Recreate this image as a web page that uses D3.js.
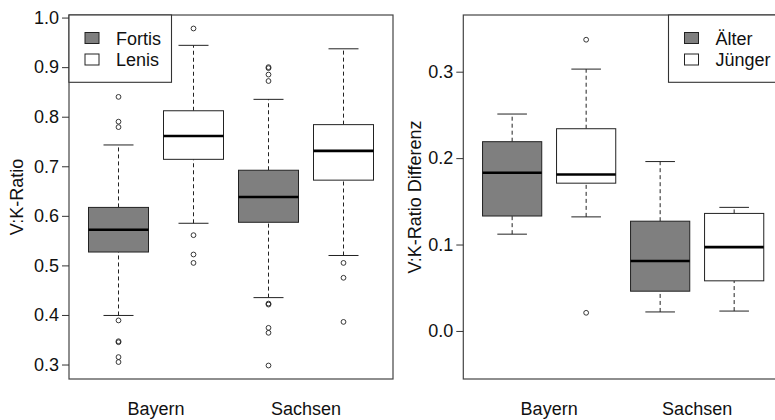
<!DOCTYPE html>
<html>
<head>
<meta charset="utf-8">
<script src="https://cdn.jsdelivr.net/npm/d3@7"></script>
<style>
  body { margin: 0; background: #fff; }
  svg { display: block; font-family: "Liberation Sans", Arial, Helvetica, sans-serif; }
</style>
</head>
<body>
<div id="chart"></div>
<script>
// regions on the x axis
var regions = ["Bayern", "Sachsen"];

// left panel: V:K ratio, [lower whisker, q1, median, q3, upper whisker] per region
var ratioSeries = ["Fortis", "Lenis"];
var ratioFortis = [[0.399, 0.527, 0.572, 0.617, 0.743], [0.435, 0.587, 0.638, 0.692, 0.835]];
var ratioLenis = [[0.585, 0.714, 0.761, 0.812, 0.944], [0.520, 0.672, 0.731, 0.784, 0.937]];
var ratioFortisOut = [[0.840, 0.790, 0.779, 0.389, 0.347, 0.345, 0.315, 0.305],
                      [0.900, 0.898, 0.885, 0.872, 0.423, 0.421, 0.374, 0.364, 0.298]];
var ratioLenisOut = [[0.978, 0.561, 0.522, 0.505], [0.505, 0.475, 0.386]];
var ratioTicks = [0.3, 0.4, 0.5, 0.6, 0.7, 0.8, 0.9, 1.0];

// right panel: V:K ratio difference
var diffSeries = ["Älter", "Jünger"];
var diffAelter = [[0.112, 0.133, 0.183, 0.219, 0.251], [0.022, 0.046, 0.081, 0.127, 0.196]];
var diffJuenger = [[0.132, 0.171, 0.181, 0.234, 0.303], [0.023, 0.058, 0.097, 0.136, 0.143]];
var diffAelterOut = [[], []];
var diffJuengerOut = [[0.337, 0.021], []];
var diffTicks = [0.0, 0.1, 0.2, 0.3];

var W = 775, H = 420;
var FS = 18;
var svg = d3.select("#chart").append("svg").attr("width", W).attr("height", H);

function boxPanel(opt) {
    var g = svg.append("g");
    var x = d3.scaleLinear().domain([0.34, 4.66]).range([opt.left, opt.right]);
    var y = d3.scaleLinear().domain(opt.ylim).range([379, 15]);

    // build the box list: region r, series s -> position
    var boxes = [];
    regions.forEach(function(r, i) {
        opt.stats.forEach(function(st, s) {
            boxes.push({pos: i * 2 + s + 1, st: st[i], out: opt.outs[s][i], fill: s == 0 ? "#7f7f7f" : "#fff"});
        });
    });

    var bw = x(0.4) - x(0), cw = x(0.2) - x(0);
    var b = g.selectAll(".box").data(boxes).enter().append("g").attr("class", "box");

    b.append("line")
        .attr("x1", function(d){ return x(d.pos); }).attr("x2", function(d){ return x(d.pos); })
        .attr("y1", function(d){ return y(d.st[0]); }).attr("y2", function(d){ return y(d.st[1]); })
        .attr("stroke", "#222").attr("stroke-dasharray", "4,3");
    b.append("line")
        .attr("x1", function(d){ return x(d.pos); }).attr("x2", function(d){ return x(d.pos); })
        .attr("y1", function(d){ return y(d.st[3]); }).attr("y2", function(d){ return y(d.st[4]); })
        .attr("stroke", "#222").attr("stroke-dasharray", "4,3");
    [0, 4].forEach(function(k) {
        b.append("line")
            .attr("x1", function(d){ return x(d.pos) - cw; }).attr("x2", function(d){ return x(d.pos) + cw; })
            .attr("y1", function(d){ return y(d.st[k]); }).attr("y2", function(d){ return y(d.st[k]); })
            .attr("stroke", "#222");
    });
    b.append("rect")
        .attr("x", function(d){ return x(d.pos) - bw; })
        .attr("width", bw * 2)
        .attr("y", function(d){ return y(d.st[3]); })
        .attr("height", function(d){ return y(d.st[1]) - y(d.st[3]); })
        .attr("fill", function(d){ return d.fill; })
        .attr("stroke", "#222");
    b.append("line")
        .attr("x1", function(d){ return x(d.pos) - bw; }).attr("x2", function(d){ return x(d.pos) + bw; })
        .attr("y1", function(d){ return y(d.st[2]); }).attr("y2", function(d){ return y(d.st[2]); })
        .attr("stroke", "#000").attr("stroke-width", 2.6);
    b.selectAll("circle").data(function(d){ return d.out.map(function(v){ return {pos: d.pos, v: v}; }); })
        .enter().append("circle")
        .attr("cx", function(d){ return x(d.pos); })
        .attr("cy", function(d){ return y(d.v); })
        .attr("r", 2.4)
        .attr("fill", "none").attr("stroke", "#222").attr("stroke-width", 0.9);

    // frame
    g.append("rect").attr("x", opt.left).attr("y", 15)
        .attr("width", opt.right - opt.left).attr("height", 364)
        .attr("fill", "none").attr("stroke", "#444").attr("stroke-width", 1.2);

    // y axis
    var ax = g.append("g").attr("transform", "translate(" + opt.left + ",0)")
        .call(d3.axisLeft(y).tickValues(opt.ticks).tickFormat(d3.format(".1f")).tickSize(7).tickPadding(3));
    ax.select(".domain").remove();
    ax.selectAll("line").attr("stroke", "#333");
    ax.selectAll("text").attr("font-size", FS).attr("fill", "#111").attr("font-family", null);

    g.append("text")
        .attr("transform", "translate(" + opt.labelX + ",197) rotate(-90)")
        .attr("text-anchor", "middle").attr("font-size", FS).attr("fill", "#111")
        .text(opt.ylabel);

    // region labels
    g.selectAll(".reg").data(regions).enter().append("text")
        .attr("x", function(d, i){ return x(i * 2 + 1.5); })
        .attr("y", 415)
        .attr("text-anchor", "middle").attr("font-size", FS).attr("fill", "#111")
        .text(function(d){ return d; });

    // legend
    var lg = g.append("g");
    lg.append("rect").attr("x", opt.legX).attr("y", 15)
        .attr("width", opt.legW).attr("height", 67.3)
        .attr("fill", "#fff").attr("stroke", "#333").attr("stroke-width", 1.1);
    opt.series.forEach(function(s, i) {
        lg.append("rect").attr("x", opt.legX + 16).attr("y", 32.5 + i * 21.5)
            .attr("width", 14).attr("height", 11)
            .attr("fill", i == 0 ? "#7f7f7f" : "#fff").attr("stroke", "#222");
        lg.append("text").attr("x", opt.legX + 47).attr("y", 44.5 + i * 21.5)
            .attr("font-size", FS).attr("fill", "#111").text(s);
    });
}

boxPanel({left: 69, right: 393, ylim: [0.2708, 1.0052], ticks: ratioTicks,
    stats: [ratioFortis, ratioLenis], outs: [ratioFortisOut, ratioLenisOut],
    series: ratioSeries, ylabel: "V:K-Ratio", labelX: 23,
    legX: 69, legW: 102.5});

boxPanel({left: 463.3, right: 783, ylim: [-0.0556, 0.3656], ticks: diffTicks,
    stats: [diffAelter, diffJuenger], outs: [diffAelterOut, diffJuengerOut],
    series: diffSeries, ylabel: "V:K-Ratio Differenz", labelX: 420.5,
    legX: 668.5, legW: 120});
</script>
</body>
</html>
